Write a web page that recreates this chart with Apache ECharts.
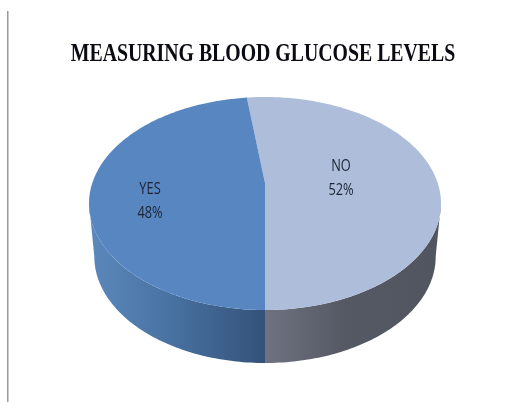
<!DOCTYPE html>
<html>
<head>
<meta charset="utf-8">
<style>html,body{margin:0;padding:0;background:#fff}#c{width:521px;height:402px}</style>
<script src="https://cdn.jsdelivr.net/npm/echarts@6/dist/echarts.min.js"></script>
</head>
<body>
<div id="c"></div>
<script>
const titleText = 'MEASURING BLOOD GLUCOSE LEVELS';
const categories = ['NO', 'YES'];
const percents = [52, 48];
const topColors = ['#AEBEDA', '#5786C1'];
const wallStops = [
  [[0, '#6F7381'], [0.45, '#545964'], [1, '#50555F']],
  [[0, '#5C88BC'], [0.5, '#46709F'], [1, '#34527A']]
];
const labelSpots = [[341, 178], [150, 201]];

// projected-disc geometry (perspective view of a flat disc)
const cx = 265, cy = 183, halfW = 172.7, halfH = 102.55, persp = 0.1925;
const depth = 53, baseShrink = 0.97;
const rad = d => d * Math.PI / 180;
function rim(deg) {
  const X = Math.sin(rad(deg)), Y = Math.cos(rad(deg));
  const w = 1 + persp * Y;
  return [cx + halfW * X / w, cy - halfH * Y / w];
}
function base(deg) {
  const p = rim(deg);
  return [cx + (p[0] - cx) * baseShrink, p[1] + depth];
}
function sweep(a, b, fn) {
  const pts = [], n = Math.max(2, Math.ceil(Math.abs(b - a)));
  for (let i = 0; i <= n; i++) pts.push(fn(a + (b - a) * i / n));
  return pts;
}
const total = percents.reduce((s, v) => s + v, 0);
const startDeg = 180 - 360 * percents[0] / total;
const wallLimit = 101; // degrees from the top where the side wall turns out of sight

function renderSlice(params, api) {
  const i = params.dataIndex;
  const before = percents.slice(0, i).reduce((s, v) => s + v, 0);
  const a = startDeg + 360 * before / total;
  const b = a + 360 * api.value(0) / total;
  const wa = Math.max(a, wallLimit), wb = Math.min(b, 360 - wallLimit);
  const wallPts = sweep(wa, wb, rim).concat(sweep(wb, wa, base));
  const facePts = [[cx, cy]].concat(sweep(a, b, rim));
  const lines = [categories[i], api.value(0) + '%'];
  return {
    type: 'group',
    children: [
      { type: 'polygon', shape: { points: wallPts },
        style: { fill: new echarts.graphic.LinearGradient(0, 0, 1, 0,
          wallStops[i].map(s => ({ offset: s[0], color: s[1] }))) } },
      { type: 'polygon', shape: { points: facePts }, style: { fill: topColors[i] } },
      ...lines.map((t, k) => ({
        type: 'text', x: labelSpots[i][0], y: labelSpots[i][1] + (k - 0.5) * 24,
        scaleX: 0.8, scaleY: 1,
        style: { text: t, x: 0, y: 0, align: 'center', verticalAlign: 'middle',
          fontFamily: 'Open Sans', fontSize: 16, fill: '#1c2433' }
      }))
    ]
  };
}

const chart = echarts.init(document.getElementById('c'), null, { renderer: 'canvas' });
chart.setOption({
  animation: false,
  backgroundColor: '#ffffff',
  graphic: [
    { type: 'rect', shape: { x: 7, y: 11, width: 1.5, height: 391 }, style: { fill: '#9a9a9a' } },
    { type: 'text', x: 263, y: 54, scaleX: 0.9, scaleY: 1.15,
      style: { text: titleText, x: 0, y: 0, align: 'center', verticalAlign: 'middle',
        fontFamily: 'Liberation Serif', fontWeight: 'bold', fontSize: 22, fill: '#0b0b14' } }
  ],
  series: [{
    type: 'custom',
    coordinateSystem: 'none',
    renderItem: renderSlice,
    data: percents.map(v => [v]),
    silent: true
  }]
});
</script>
</body>
</html>
